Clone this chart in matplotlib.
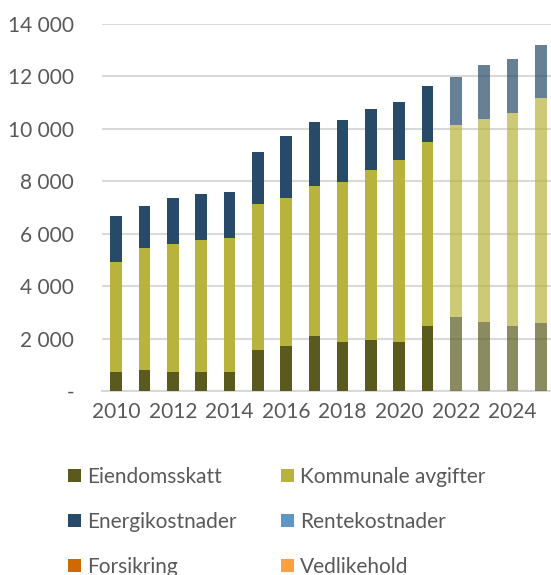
import numpy as np
import matplotlib
matplotlib.use("Agg")
import matplotlib.pyplot as plt
import matplotlib.colors as mcolors
from matplotlib.patches import Patch
from matplotlib.ticker import FuncFormatter

# ── data ──────────────────────────────────────────────────────────────────────
years = list(range(2010, 2026))
eiendomsskatt = [730, 800, 730, 730, 730, 1560, 1720, 2100, 1870, 1950, 1870, 2480, 2820, 2630, 2480, 2600]
kommunale     = [4190, 4660, 4880, 5030, 5110, 5580, 5650, 5720, 6110, 6490, 6950, 7020, 7330, 7750, 8130, 8550]
energi        = [1760, 1600, 1760, 1760, 1760, 1980, 2360, 2450, 2360, 2290, 2210, 2140, 1800, 2060, 2060, 2050]
rente         = [0] * 16
forsikring    = [0] * 16
vedlikehold   = [0] * 16
forecast_from = 2022

series = [
    ("Eiendomsskatt",       eiendomsskatt, "#5A5A1F"),
    ("Kommunale avgifter",  kommunale,     "#B7B33D"),
    ("Energikostnader",     energi,        "#264A67"),
    ("Rentekostnader",      rente,         "#6096C4"),
    ("Forsikring",          forsikring,    "#D06A00"),
    ("Vedlikehold",         vedlikehold,   "#FFA040"),
]

FONT = "Lato"
TXT = "#595959"
GRID = "#D9D9D9"

# ── figure ────────────────────────────────────────────────────────────────────
fig = plt.figure(figsize=(5.51, 5.75), dpi=100, facecolor="white")
ax = fig.add_axes([102 / 551, 1 - 391 / 575, 453 / 551, (391 - 23.7) / 575])

x = np.arange(len(years))
bottom = np.zeros(len(years))
for name, vals, col in series:
    vals = np.array(vals, dtype=float)
    cols = [mcolors.to_rgba(col, 0.7 if y >= forecast_from else 1.0) for y in years]
    ax.bar(x, vals, width=0.41, bottom=bottom, color=cols, linewidth=0, zorder=3)
    bottom += vals

ax.set_xlim(-0.5, 15.5)
ax.set_ylim(0, 14000)
ax.set_yticks(np.arange(0, 14001, 2000))
ax.yaxis.set_major_formatter(FuncFormatter(
    lambda v, p: "-" if v == 0 else f"{int(v):,}".replace(",", " ")))
ax.set_xticks(x[::2])
ax.set_xticklabels([str(y) for y in years[::2]])

ax.grid(axis="y", color=GRID, linewidth=1.5, zorder=0)
for s in ["top", "right", "left"]:
    ax.spines[s].set_visible(False)
ax.spines["bottom"].set_color(GRID)
ax.spines["bottom"].set_linewidth(1.5)
ax.tick_params(axis="both", length=0, labelsize=15, labelcolor=TXT)
ax.tick_params(axis="y", pad=20)
ax.tick_params(axis="x", pad=8)
for lab in ax.get_xticklabels() + ax.get_yticklabels():
    lab.set_fontfamily(FONT)

# ── legend (row-major order in two columns) ───────────────────────────────────
handles = [Patch(facecolor=c, edgecolor="none", label=n) for n, _, c in series]
order = [0, 2, 4, 1, 3, 5]
fig.legend(handles=[handles[i] for i in order], ncol=2, loc="upper left",
           bbox_to_anchor=(68 / 551, 1 - 467 / 575),
           frameon=False, borderpad=0, borderaxespad=0,
           handlelength=0.63, handleheight=0.63, handletextpad=0.3,
           columnspacing=2.1, labelspacing=1.2,
           prop={"family": FONT, "size": 15}, labelcolor=TXT)

fig.savefig("out.png", dpi=100, facecolor="white")
